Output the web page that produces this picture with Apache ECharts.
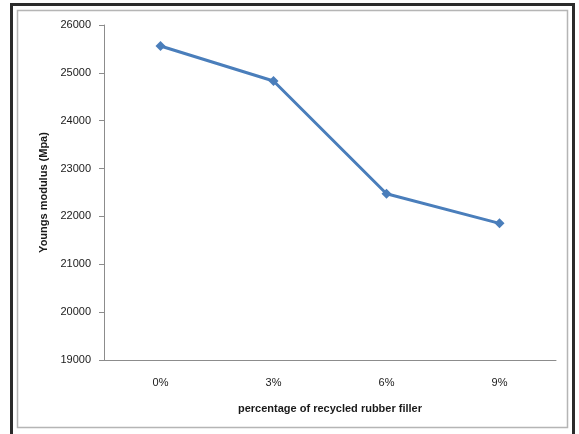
<!DOCTYPE html>
<html>
<head>
<meta charset="utf-8">
<script src="https://cdn.jsdelivr.net/npm/echarts@6/dist/echarts.min.js"></script>
<style>
html,body{margin:0;padding:0;background:#fff;}
#chart{width:579px;height:434px;}
</style>
</head>
<body>
<div id="chart"></div>
<script>
var categories = ['0%', '3%', '6%', '9%'];
var youngsModulus = [25560, 24830, 22475, 21855];
var yTicks = { min: 19000, max: 26000, interval: 1000 };
var xTitle = 'percentage of recycled rubber filler';
var yTitle = 'Youngs modulus (Mpa)';

var chart = echarts.init(document.getElementById('chart'), null, { renderer: 'canvas' });
var font = '"Liberation Sans", Arial, sans-serif';
chart.setOption({
  backgroundColor: '#ffffff',
  animation: false,
  graphic: [
    { type: 'rect', shape: { x: 11.5, y: 4.5, width: 562, height: 440 },
      style: { fill: 'none', stroke: '#2b2b2b', lineWidth: 3 }, silent: true },
    { type: 'rect', shape: { x: 17.5, y: 10.5, width: 550, height: 417 },
      style: { fill: 'none', stroke: '#b5b5b5', lineWidth: 1.5 }, silent: true }
  ],
  grid: { left: 104, right: 23, top: 25, bottom: 74, containLabel: false },
  xAxis: {
    type: 'category',
    data: categories,
    boundaryGap: true,
    name: xTitle,
    nameLocation: 'middle',
    nameGap: 43,
    nameTextStyle: { fontFamily: font, fontSize: 11, fontWeight: 'bold', color: '#1a1a1a' },
    axisLine: { lineStyle: { color: '#8c8c8c', width: 1 } },
    axisTick: { show: false },
    axisLabel: { fontFamily: font, fontSize: 11, color: '#1a1a1a', margin: 17 },
    splitLine: { show: false }
  },
  yAxis: {
    type: 'value',
    min: yTicks.min,
    max: yTicks.max,
    interval: yTicks.interval,
    name: yTitle,
    nameLocation: 'middle',
    nameGap: 52,
    nameRotate: 90,
    nameTextStyle: { fontFamily: font, fontSize: 11, fontWeight: 'bold', color: '#1a1a1a' },
    axisLine: { show: true, lineStyle: { color: '#8c8c8c', width: 1 } },
    axisTick: { show: true, length: 5, lineStyle: { color: '#8c8c8c' } },
    axisLabel: { fontFamily: font, fontSize: 11, color: '#1a1a1a', margin: 13,
      formatter: function (v) { return String(v); } },
    splitLine: { show: false }
  },
  series: [{
    type: 'line',
    data: youngsModulus,
    symbol: 'diamond',
    symbolSize: 10,
    lineStyle: { color: '#4a7ebb', width: 3 },
    itemStyle: { color: '#4a7ebb' }
  }]
});
</script>
</body>
</html>
